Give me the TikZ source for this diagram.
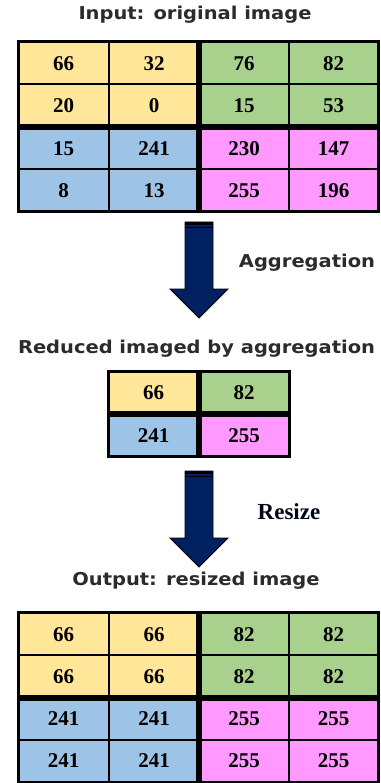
\documentclass[tikz,border=0pt]{standalone}
\usepackage{fontspec}
\setmainfont{Liberation Serif}
\newfontfamily\titlefont[FakeStretch=1.1]{DejaVu Sans}
\usetikzlibrary{positioning}
\definecolor{cyel}{HTML}{FFE699}
\definecolor{cgre}{HTML}{A9D18E}
\definecolor{cblu}{HTML}{9DC3E6}
\definecolor{cpin}{HTML}{FF99FF}
\definecolor{arrnavy}{HTML}{002060}
\definecolor{titlegray}{HTML}{2B2B2B}
\begin{document}
\begin{tikzpicture}[x=1pt,y=-1pt]
  \tikzset{cell/.style = {draw=black, line width=2pt, minimum width=90pt, minimum height=42.5pt,
                          inner sep=0pt, outer sep=0pt, font=\bfseries\fontsize{21}{21}\selectfont},
           title/.style = {font=\titlefont\bfseries\fontsize{17.7}{18}\selectfont, text=titlegray},
           blockarrow/.style = {fill=arrnavy, draw=black, line width=0.8pt}}
  \useasboundingbox (0,0) rectangle (380,783);

  % input
  \node[title] (intitle) at (195,15) {Input: original image};
  \foreach \r/\a/\b/\c/\d/\lc/\rc in {1/66/32/76/82/cyel/cgre, 2/20/0/15/53/cyel/cgre,
                                      3/15/241/230/147/cblu/cpin, 4/8/13/255/196/cblu/cpin}{
    \node[cell,fill=\lc] (in-\r-1) at (63.5,{20.75+42.5*\r}) {\a};
    \node[cell,fill=\lc] (in-\r-2) at (154,{20.75+42.5*\r}) {\b};
    \node[cell,fill=\rc] (in-\r-3) at (244,{20.75+42.5*\r}) {\c};
    \node[cell,fill=\rc] (in-\r-4) at (333.5,{20.75+42.5*\r}) {\d};
  }
  \draw[line width=6pt] (in-1-2.north east) -- (in-4-2.south east);
  \draw[line width=6pt] (in-2-1.south west) -- (in-2-4.south east);
  \draw[line width=3pt] (in-1-1.north west) rectangle (in-4-4.south east);

  % aggregation
  \coordinate (a1) at (199,222);
  \draw[blockarrow] (a1) ++(-14,0) -- ++(28,0) -- ++(0,67) -- ++(15,0) -- ++(-29,29) -- ++(-29,-29) -- ++(15,0) -- cycle;
  \draw[line width=3pt] (a1) ++(-14,1.5) -- ++(28,0);
  \draw[line width=1pt] (a1) ++(-14,5.5) -- ++(28,0);
  \node[title] (agglabel) at (307,263) {Aggregation};

  \node[title] (redtitle) at (196.5,349) {Reduced imaged by aggregation};
  \node[cell,fill=cyel,minimum width=91pt] (red-1-1) at (153.5,393) {66};
  \node[cell,fill=cgre,minimum width=91pt] (red-1-2) at (244,393) {82};
  \node[cell,fill=cblu,minimum width=91pt] (red-2-1) at (153.5,435.5) {241};
  \node[cell,fill=cpin,minimum width=91pt] (red-2-2) at (244,435.5) {255};
  \draw[line width=6pt] (red-1-1.north east) -- (red-2-1.south east);
  \draw[line width=6pt] (red-1-1.south west) -- (red-1-2.south east);
  \draw[line width=3pt] (red-1-1.north west) rectangle (red-2-2.south east);

  % resize
  \coordinate (a2) at (199,471);
  \draw[blockarrow] (a2) ++(-14,0) -- ++(28,0) -- ++(0,67) -- ++(15,0) -- ++(-29,29) -- ++(-29,-29) -- ++(15,0) -- cycle;
  \draw[line width=3pt] (a2) ++(-14,1.5) -- ++(28,0);
  \draw[line width=1pt] (a2) ++(-14,5.5) -- ++(28,0);
  \node[font=\bfseries\fontsize{23}{23}\selectfont, text=black!75!arrnavy] (reslabel) at (289,512) {Resize};

  % output
  \node[title] (outtitle) at (196,581) {Output: resized image};
  \foreach \r/\a/\b/\lc/\rc in {1/66/82/cyel/cgre, 2/66/82/cyel/cgre, 3/241/255/cblu/cpin, 4/241/255/cblu/cpin}{
    \node[cell,fill=\lc] (out-\r-1) at (63.5,{591.9+42.25*\r}) {\a};
    \node[cell,fill=\lc] (out-\r-2) at (154,{591.9+42.25*\r}) {\a};
    \node[cell,fill=\rc] (out-\r-3) at (244,{591.9+42.25*\r}) {\b};
    \node[cell,fill=\rc] (out-\r-4) at (333.5,{591.9+42.25*\r}) {\b};
  }
  \draw[line width=6pt] (out-1-2.north east) -- (out-4-2.south east);
  \draw[line width=6pt] (out-2-1.south west) -- (out-2-4.south east);
  \draw[line width=3pt] (out-1-1.north west) rectangle (out-4-4.south east);
\end{tikzpicture}
\end{document}
